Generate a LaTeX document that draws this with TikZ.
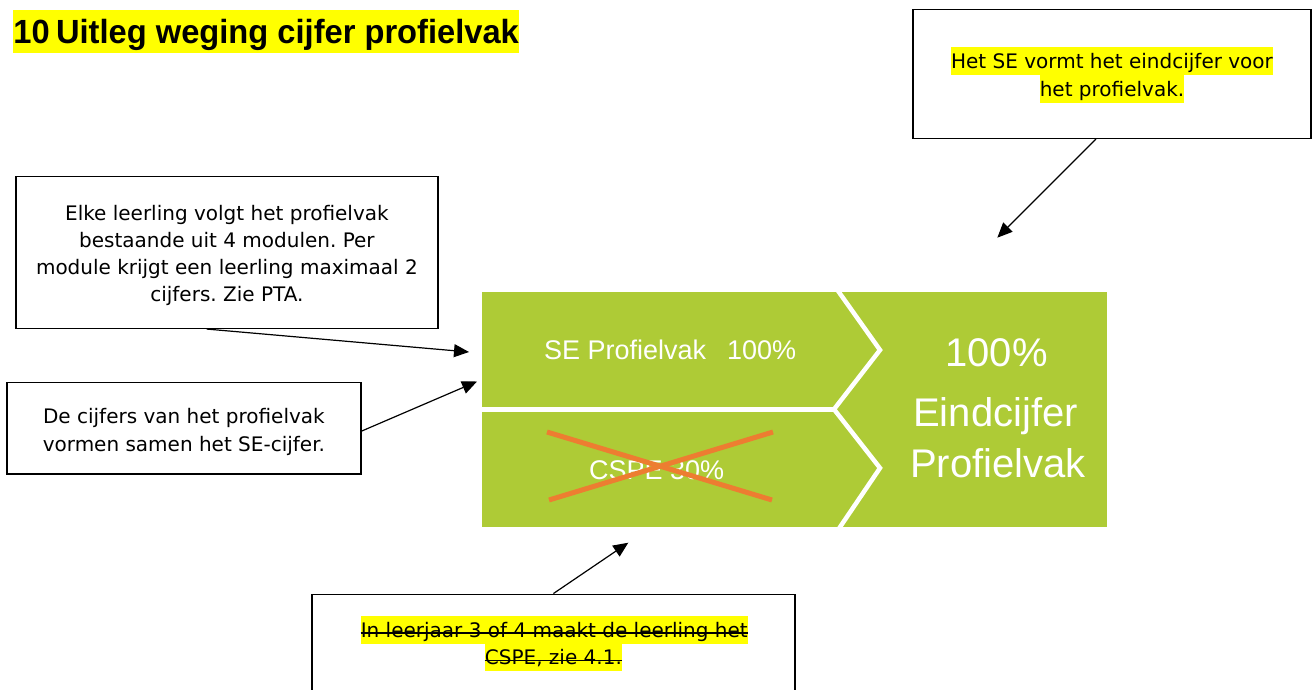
\documentclass[tikz,border=0pt]{standalone}
\usepackage{fontspec}
\usepackage{graphicx}
\setmainfont{DejaVu Sans}
\newfontfamily\arialf{Liberation Sans}
\usetikzlibrary{arrows.meta}
\definecolor{hl}{RGB}{255,255,0}
\definecolor{leaf}{RGB}{174,203,54}
\definecolor{crossc}{RGB}{237,125,49}
\frenchspacing
\tikzset{
  notebox/.style={draw=black, line width=1.5pt, fill=white, inner sep=0pt},
  txt/.style={anchor=base, inner sep=0pt, font=\fontsize{20}{27}\selectfont},
  hltxt/.style={txt, fill=hl, text height=21.5pt, text depth=6.3pt},
  arr/.style={line width=1.2pt, -{Triangle[length=15pt,width=13pt]}},
  gtxt/.style={inner sep=0pt, text=white, font=\arialf\fontsize{27}{30}\selectfont},
  bigtxt/.style={anchor=base, inner sep=0pt, text=white, font=\arialf\fontsize{40}{44}\selectfont},
  wline/.style={white, line width=4.5pt, line join=miter},
  strike/.style={black, line width=1.3pt}
}
\begin{document}
\begin{tikzpicture}[x=1pt,y=-1pt]
\useasboundingbox (0,0) rectangle (1312,689);

% title
\node[anchor=base west, fill=hl, inner xsep=0.5pt, inner ysep=0pt, text height=33.3pt, text depth=9.4pt,
      font=\arialf\bfseries\fontsize{33.5}{40}\selectfont] (title) at (12.7,43.3)
  {\scalebox{0.975}[1]{10\hspace{6.5pt}Uitleg weging cijfer profielvak}\hspace{2pt}};

% green graphic
\fill[leaf] (482,292) rectangle (1107,527);
\draw[wline] (482,409.3) -- (834,409.3);
\draw[wline] (836,288) -- (880,350) -- (834,409.3) -- (880,468) -- (838,530);
\node[gtxt, anchor=base west] (se) at (544,359) {SE Profielvak};
\node[gtxt, anchor=base west] (sepct) at (727,359) {100\%};
\node[gtxt, anchor=base west] (cspe) at (589,479) {CSPE 30\%};
\draw[crossc, line width=5pt] (547,432) -- (772,500);
\draw[crossc, line width=5pt] (549,500) -- (773,432);
\node[bigtxt] (r1) at (996.5,366) {100\%};
\node[bigtxt] (r2) at (995.5,426) {Eindcijfer};
\node[bigtxt] (r3) at (998,477) {Profielvak};

% top-right box
\node[notebox, minimum width=398.3pt, minimum height=129pt] (boxtr) at (1111.9,73.8) {};
\node[hltxt] (tr1) at (1112,68.3) {Het SE vormt het eindcijfer voor};
\node[hltxt] (tr2) at (1112,96.5) {het profielvak.};
\coordinate (t3) at (997.3,237.7);
\draw[arr] ([xshift=-15.9pt]boxtr.south) -- (t3);

% box 1
\node[notebox, minimum width=421.7pt, minimum height=151.6pt] (box1) at (226.9,252.5) {};
\node[txt] (b1l1) at (226.9,220) {Elke leerling volgt het profielvak};
\node[txt] (b1l2) at (226.9,247.5) {bestaande uit 4 modulen. Per};
\node[txt] (b1l3) at (226.9,274.7) {module krijgt een leerling maximaal 2};
\node[txt] (b1l4) at (226.9,301.7) {cijfers. Zie PTA.};
\coordinate (t1) at (469,352);
\draw[arr] ([xshift=-20.2pt]box1.south) -- (t1);

% box 2
\node[notebox, minimum width=354.3pt, minimum height=91.7pt] (box2) at (183.9,428.2) {};
\node[txt] (b2l1) at (183.9,423.3) {De cijfers van het profielvak};
\node[txt] (b2l2) at (183.9,451.3) {vormen samen het SE-cijfer.};
\coordinate (t2) at (477,381.5);
\draw[arr] ([yshift=-2.8pt]box2.east) -- (t2);

% bottom box
\node[notebox, minimum width=483.3pt, minimum height=111.4pt] (boxb) at (553.4,650) {};
\node[hltxt] (bl1) at (554.3,637.3) {In leerjaar 3 of 4 maakt de leerling het};
\node[hltxt] (bl2) at (553.4,664.7) {CSPE, zie 4.1.};
\draw[strike] ([yshift=4.2pt]bl1.base west) -- ([yshift=4.2pt]bl1.base east);
\draw[strike] ([yshift=4.2pt]bl2.base west) -- ([yshift=4.2pt]bl2.base east);
\coordinate (t4) at (628.3,542.7);
\draw[arr] (boxb.north) -- (t4);
\end{tikzpicture}
\end{document}
